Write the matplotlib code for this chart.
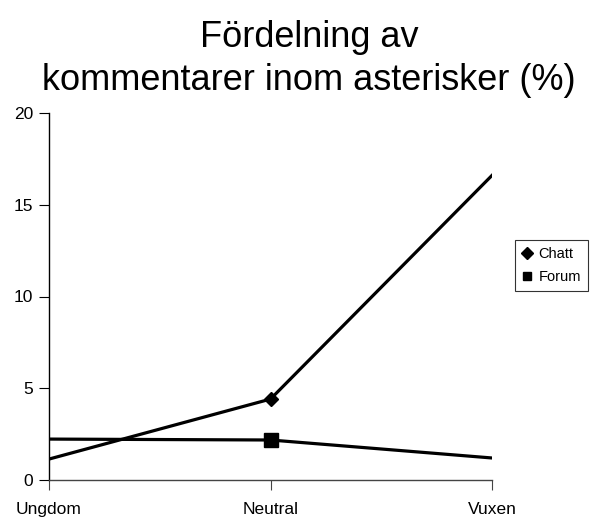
import matplotlib
matplotlib.use('Agg')
import matplotlib.pyplot as plt

plt.rcParams['font.family'] = ['Liberation Sans', 'DejaVu Sans']

categories = ['Ungdom', 'Neutral', 'Vuxen']
chatt = [1.14, 4.41, 16.6]
forum = [2.23, 2.18, 1.2]
y_ticks = [0, 5, 10, 15, 20]

fig = plt.figure(figsize=(5.9, 5.18), dpi=100)
ax = fig.add_axes([49 / 590, 1 - 480 / 518, (492 - 49) / 590, (480 - 113) / 518])

x = list(range(len(categories)))
ax.plot(x, chatt, color='black', lw=2.3, marker='D', ms=7, markevery=[1], label='Chatt')
ax.plot(x, forum, color='black', lw=2.3, marker='s', ms=10.5, markevery=[1], label='Forum')

ax.set_xlim(0, 2)
ax.set_ylim(0, 20)
ax.set_xticks(x)
ax.set_xticklabels(categories)
ax.set_yticks(y_ticks)
ax.tick_params(axis='both', direction='out', length=7.5, labelsize=12.5, colors='black')
ax.tick_params(axis='x', pad=8, color='#444444')
ax.tick_params(axis='y', pad=4)
ax.spines['top'].set_visible(False)
ax.spines['right'].set_visible(False)
ax.spines['bottom'].set_color('#444444')
ax.spines['left'].set_color('black')
for s in ax.spines.values():
    s.set_linewidth(1.0)

fig.text(309 / 590, 1 - 59 / 518, 'Fördelning av\nkommentarer inom asterisker (%)',
         ha='center', va='center', fontsize=26, linespacing=1.3)

leg = fig.legend(handles=ax.get_lines(), loc='upper left',
                 bbox_to_anchor=(515 / 590, 1 - 240 / 518), borderaxespad=0,
                 handlelength=0.6, handletextpad=0.5, fontsize=10.5,
                 frameon=True, fancybox=False, borderpad=0.5, labelspacing=0.6)
leg.get_frame().set_edgecolor('black')
leg.get_frame().set_linewidth(0.8)
for h in leg.legend_handles:
    h.set_linestyle('none')
    h.set_markersize(6)

fig.savefig('out.png', dpi=100)
